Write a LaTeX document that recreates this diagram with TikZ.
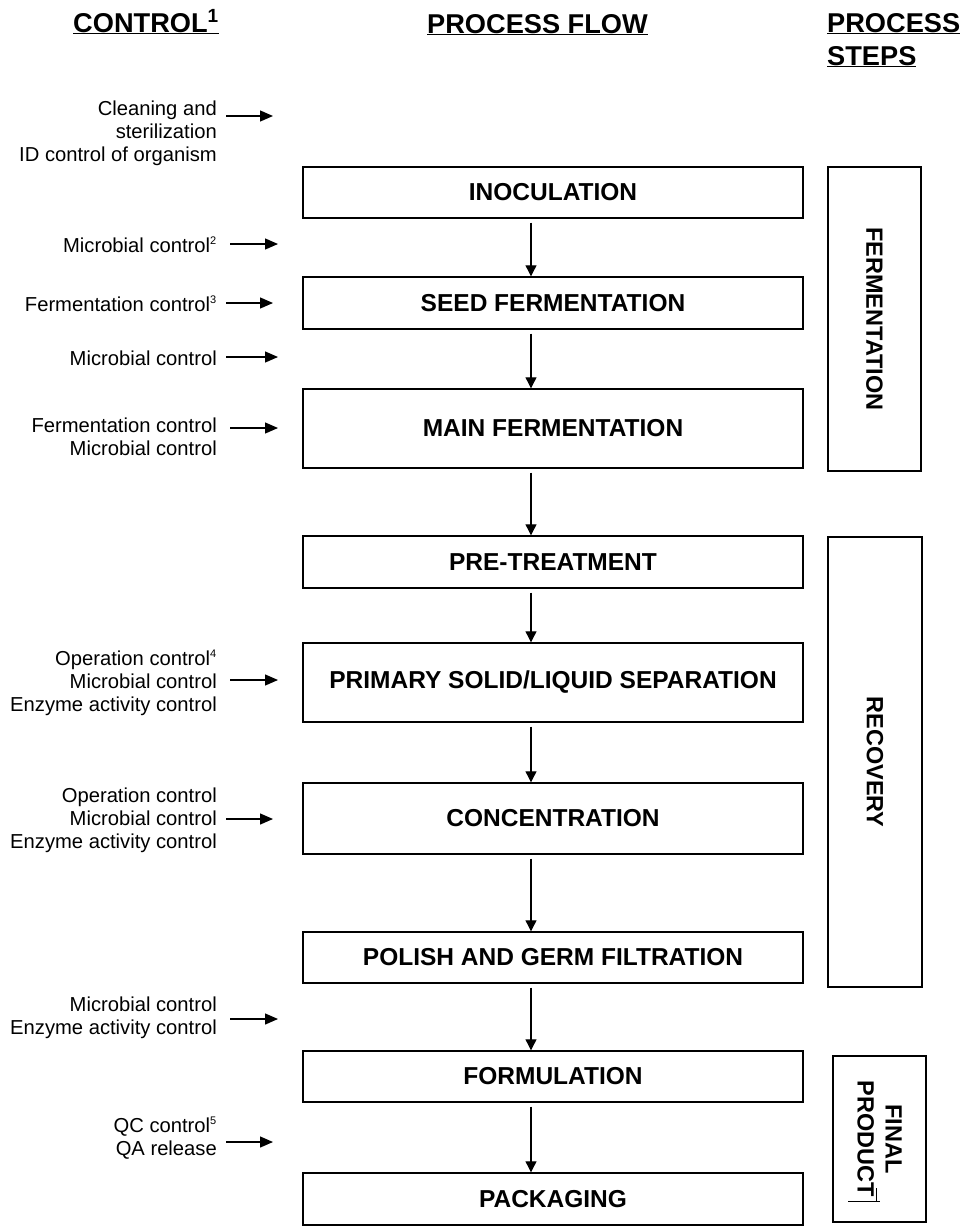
\documentclass[tikz,border=0pt]{standalone}
\usepackage{fontspec}
\setmainfont{Liberation Sans}
\usetikzlibrary{arrows.meta}
\newcommand\supx[1]{\textsuperscript{\fontsize{11}{11}\selectfont #1}}
\begin{document}
\begin{tikzpicture}[x=1pt,y=-1pt,
 box/.style={draw, line width=1.4pt, inner sep=0pt, minimum width=500pt, font=\fontsize{24.5}{29}\selectfont\bfseries},
 side/.style={draw, line width=1.4pt, inner sep=0pt, rotate=-90, align=center, font=\fontsize{23.5}{28}\selectfont\bfseries},
 hdr/.style={inner sep=0pt, font=\fontsize{27.2}{33}\selectfont\bfseries},
 lbl/.style={inner sep=0pt, align=right, anchor=base east, font=\fontsize{20.2}{23}\selectfont},
 farr/.style={line width=1.1pt, -{Triangle[length=11pt,width=11pt]}, shorten <=4pt},
 larr/.style={line width=1.3pt, -{Triangle[length=13pt,width=11pt]}}]

\useasboundingbox (0,0) rectangle (960,1226);

% headers (multi-line nodes: base = last line)
\node[hdr, anchor=base] (hc) at (146,32) {\underline{CONTROL\textsuperscript{1}}};
\node[hdr, anchor=base] (hf) at (537.5,33) {\underline{PROCESS FLOW}};
\node[hdr, anchor=base west, align=left] (hs) at (827,65) {\underline{PROCESS}\\\underline{STEPS}};

% process flow boxes
\node[box, minimum height=51pt] (inoc) at (553,192.5) {INOCULATION};
\node[box, minimum height=52pt] (seed) at (553,303) {SEED FERMENTATION};
\node[box, minimum height=79pt] (main) at (553,428.5) {MAIN FERMENTATION};
\node[box, minimum height=52pt] (pre) at (553,562) {PRE-TREATMENT};
\node[box, minimum height=79pt] (prim) at (553,682.5) {PRIMARY SOLID/LIQUID SEPARATION};
\node[box, minimum height=71pt] (conc) at (553,818.5) {CONCENTRATION};
\node[box, minimum height=51pt] (pol) at (553,957.5) {POLISH AND GERM FILTRATION};
\node[box, minimum height=51pt] (form) at (553,1076.5) {FORMULATION};
\node[box, minimum height=52pt] (pack) at (553,1199) {PACKAGING};

% process steps
\node[side, minimum width=304pt, minimum height=93pt] (fer) at (874.5,319) {FERMENTATION};
\node[side, minimum width=450pt, minimum height=94pt] (rec) at (875,762) {RECOVERY};
\node[side, minimum width=166pt, minimum height=93pt] (fin) at (879.5,1139) {FINAL\\PRODUCT};
\draw[line width=1pt] (876,1188) -- (876,1201) (848,1201) -- (880,1201);

% flow arrows
\coordinate (ax) at (531,0);
\draw[farr] (inoc.south -| ax) -- (seed.north -| ax);
\draw[farr] (seed.south -| ax) -- (main.north -| ax);
\draw[farr] (main.south -| ax) -- (pre.north -| ax);
\draw[farr] (pre.south -| ax) -- (prim.north -| ax);
\draw[farr] (prim.south -| ax) -- (conc.north -| ax);
\draw[farr] (conc.south -| ax) -- (pol.north -| ax);
\draw[farr] (pol.south -| ax) -- (form.north -| ax);
\draw[farr] (form.south -| ax) -- (pack.north -| ax);

% control labels (base = baseline of last line)
\node[lbl] (c1) at (217,161) {Cleaning and\\sterilization\\ID control of organism};
\node[lbl] (c2) at (217,252) {Microbial control\supx{2}};
\node[lbl] (c3) at (217,311) {Fermentation control\supx{3}};
\node[lbl] (c4) at (217,365) {Microbial control};
\node[lbl] (c5) at (217,455) {Fermentation control\\Microbial control};
\node[lbl] (c6) at (217,711) {Operation control\supx{4}\\Microbial control\\Enzyme activity control};
\node[lbl] (c7) at (217,848) {Operation control\\Microbial control\\Enzyme activity control};
\node[lbl] (c8) at (217,1034) {Microbial control\\Enzyme activity control};
\node[lbl] (c9) at (217,1155) {QC control\supx{5}\\QA release};

% control arrows
\coordinate (a1s) at (226,116); \coordinate (a1e) at (273,116);
\coordinate (a2s) at (230,244); \coordinate (a2e) at (278,244);
\coordinate (a3s) at (226,303); \coordinate (a3e) at (273,303);
\coordinate (a4s) at (226,357); \coordinate (a4e) at (278,357);
\coordinate (a5s) at (230,428); \coordinate (a5e) at (278,428);
\coordinate (a6s) at (230,680); \coordinate (a6e) at (278,680);
\coordinate (a7s) at (226,819); \coordinate (a7e) at (273,819);
\coordinate (a8s) at (230,1019); \coordinate (a8e) at (278,1019);
\coordinate (a9s) at (226,1142); \coordinate (a9e) at (273,1142);
\foreach \i in {1,...,9} {\draw[larr] (a\i s) -- (a\i e);}
\end{tikzpicture}
\end{document}
